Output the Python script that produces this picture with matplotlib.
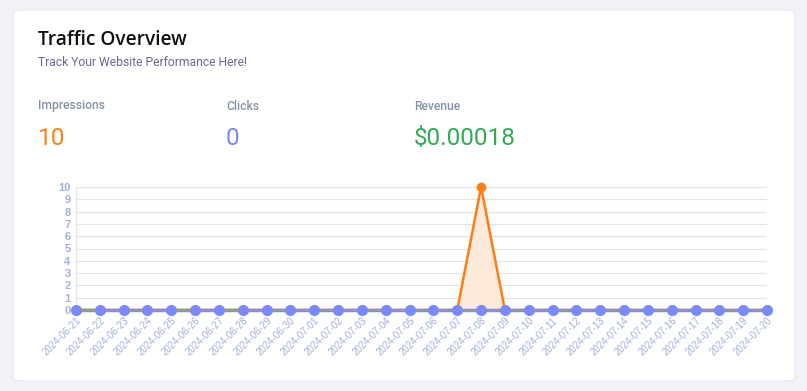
import matplotlib.pyplot as plt
from matplotlib.patches import FancyBboxPatch
import numpy as np

# data
dates = ['2024-06-21', '2024-06-22', '2024-06-23', '2024-06-24', '2024-06-25',
         '2024-06-26', '2024-06-27', '2024-06-28', '2024-06-29', '2024-06-30',
         '2024-07-01', '2024-07-02', '2024-07-03', '2024-07-04', '2024-07-05',
         '2024-07-06', '2024-07-07', '2024-07-08', '2024-07-09', '2024-07-10',
         '2024-07-11', '2024-07-12', '2024-07-13', '2024-07-14', '2024-07-15',
         '2024-07-16', '2024-07-17', '2024-07-18', '2024-07-19', '2024-07-20']
impressions = [0]*17 + [10] + [0]*12
clicks = [0]*30
revenue = [0.00018/30]*30  # tiny, sits on the zero line
y_ticks = list(range(0, 11))

orange = '#fd7e14'
blue = '#7b88f8'
green = '#34a853'
tick_col = '#a3b0d9'

fig = plt.figure(figsize=(8.07, 3.91), dpi=100)
fig.patch.set_facecolor('#f1f3f8')

# white card
card = FancyBboxPatch((13/807, 10/391), 782/807, 371/391,
                      boxstyle='round,pad=0,rounding_size=0.012',
                      transform=fig.transFigure, facecolor='white',
                      edgecolor='#e8eaf0', linewidth=0.8, zorder=-1)
fig.patches.append(card)

fig.text(38/807, 1 - 40/391, 'Traffic Overview', fontsize=13.8, color='#111111',
         family='Open Sans', fontweight='semibold', va='center')
fig.text(38/807, 1 - 62/391, 'Track Your Website Performance Here!', fontsize=8.7,
         color='#6a6a8e', family='Roboto', va='center')

stats = [('Impressions', '10', orange, 38),
         ('Clicks', '0', blue, 226),
         ('Revenue', '$0.00018', green, 414)]
for lab, val, col, xp in stats:
    fig.text(xp/807, 1 - 106/391, lab, fontsize=8.7, color='#8592a6',
             family='Roboto', fontweight='medium', va='center')
    fig.text(xp/807, 1 - 138/391, val, fontsize=17.5, color=col,
             family='Roboto', va='center')

ax = fig.add_axes([76/807, 1 - 310/391, (767-76)/807, (310-187)/391])
ax.set_zorder(2)
ax.set_facecolor('none')
x = np.arange(len(dates))

ax.fill_between(x, impressions, 0, color='#fde8d7', alpha=0.9, zorder=1)
ax.plot(x, impressions, color=orange, linewidth=1.8, zorder=2)
ax.plot(x[17], impressions[17], 'o', color=orange, markersize=6, zorder=5, clip_on=False)
ax.plot(x, clicks, color=blue, linewidth=2.5, zorder=3, clip_on=False)
ax.plot(x, revenue, color='#9a9a9a', linewidth=1.0, zorder=4, clip_on=False)
ax.plot(x, clicks, 'o', color=blue, markersize=7, zorder=6, clip_on=False)

ax.set_xlim(0, len(dates) - 1)
ax.set_ylim(0, 10)
ax.set_yticks(y_ticks)
ax.set_yticklabels([str(t) for t in y_ticks], fontsize=8, color=tick_col,
                   fontweight='bold', family='Liberation Sans')
ax.set_xticks(x)
ax.set_xticklabels(dates, rotation=45, ha='right', rotation_mode='anchor',
                   fontsize=7, color=tick_col, family='Liberation Sans')
ax.tick_params(length=0, pad=4)
ax.grid(axis='y', color='#e3e3e3', linewidth=0.9)
ax.set_axisbelow(True)
for s in ['top', 'right', 'bottom']:
    ax.spines[s].set_visible(False)
ax.spines['left'].set_color('#e3e3e3')

plt.savefig('out.png', dpi=100, facecolor=fig.get_facecolor())
